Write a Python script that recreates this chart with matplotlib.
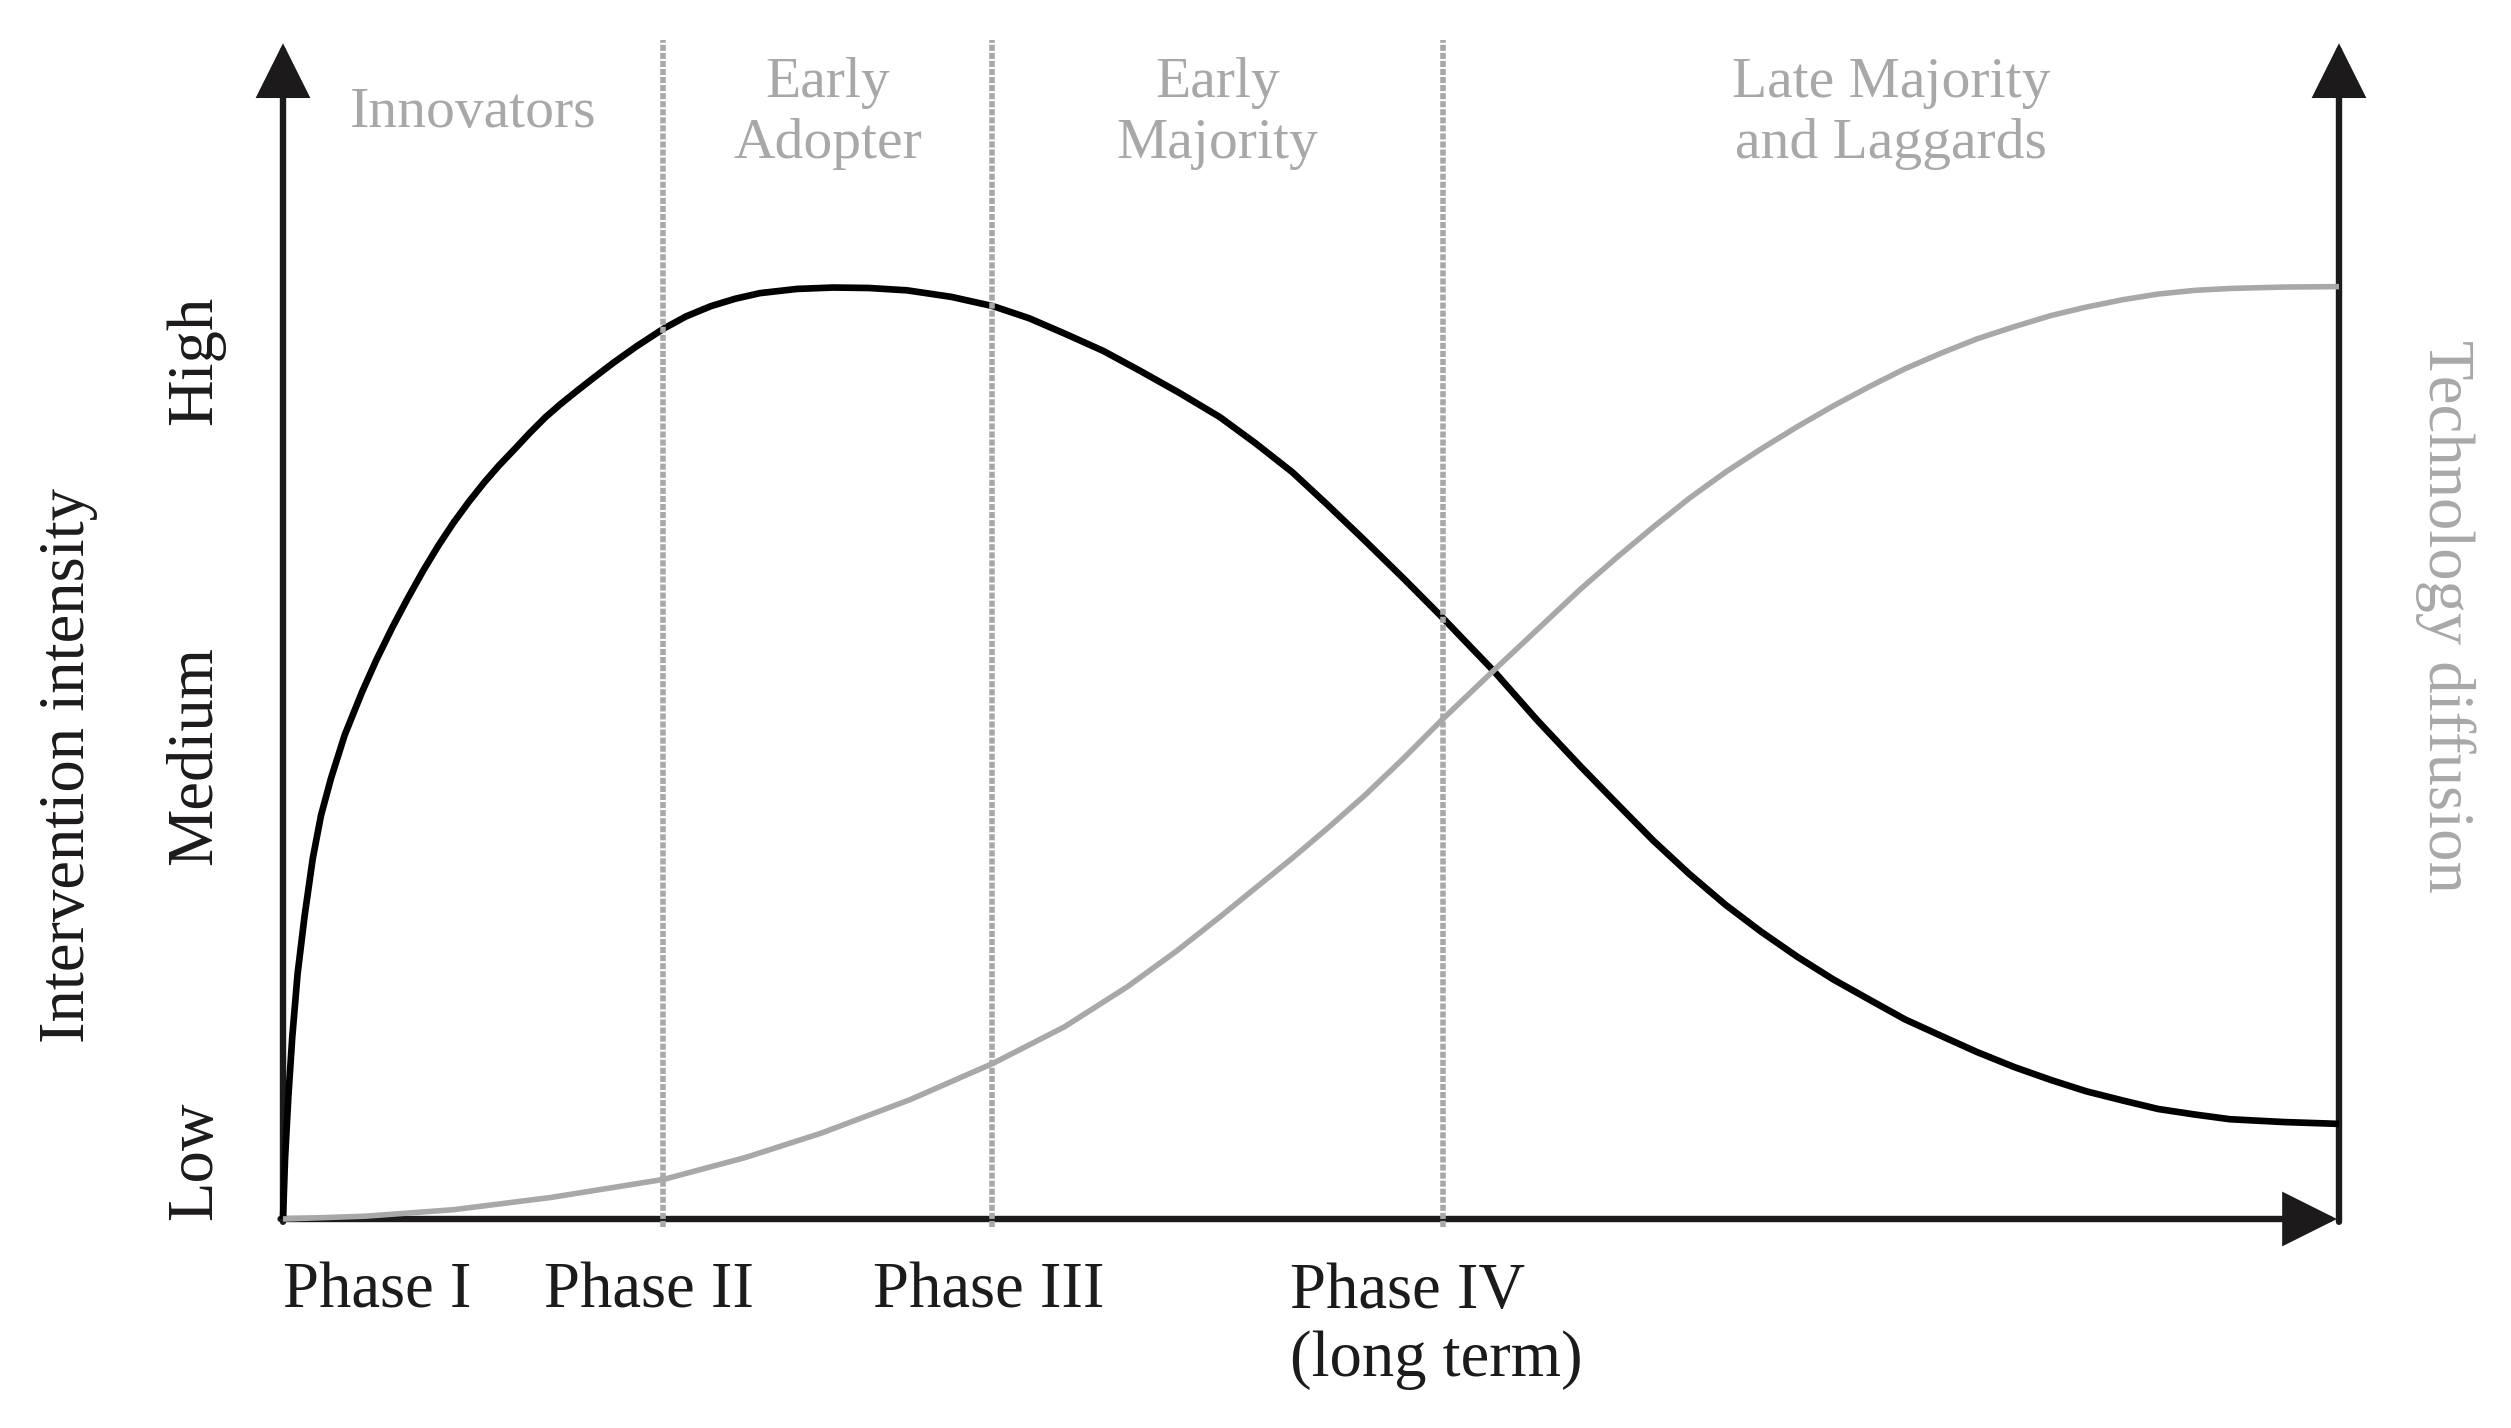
import matplotlib.pyplot as plt

plt.rcParams['font.family'] = ['Liberation Serif', 'DejaVu Serif']

# values
# x: time from start (0) to long term (100), y: 0 = low, 100 = high
intensity_x = [0, 0.1, 0.26, 0.45, 0.71, 1.05, 1.45, 1.85, 2.34, 3.0, 3.84,
               4.55, 5.33, 6.05, 6.81, 7.55, 8.30, 9.05, 9.79, 10.5, 11.28,
               12.0, 12.77, 13.5, 14.26, 15.1, 16.05, 17.2, 18.52, 19.6,
               20.81, 22.0, 23.2, 25.0, 26.77, 28.5, 30.35, 32.5, 34.54,
               36.3, 38.08, 39.9, 41.66, 43.6, 45.57, 47.3, 49.09, 50.8,
               52.6, 54.5, 56.35, 58.92, 61.0, 63.13, 64.9, 66.64, 68.4,
               70.16, 71.9, 73.67, 75.4, 77.18, 78.9, 80.69, 82.4, 84.2,
               86.0, 87.7, 89.5, 91.2, 93.0, 94.7, 97.3, 100]
intensity_y = [0, 6.5, 13.1, 19.5, 26.3, 32.5, 38.7, 43.3, 47.3, 51.9, 56.5,
               60.0, 63.5, 66.5, 69.5, 72.2, 74.7, 76.95, 79.0, 80.8, 82.6,
               84.3, 86.0, 87.4, 88.75, 90.2, 91.8, 93.6, 95.5, 96.8,
               97.9, 98.7, 99.3, 99.75, 99.9, 99.85, 99.6, 98.9, 97.9,
               96.6, 94.9, 93.1, 91.0, 88.6, 86.0, 83.2, 80.1, 76.6,
               72.8, 68.7, 64.6, 58.7, 53.5, 48.5, 44.5, 40.6, 37.0,
               33.7, 30.8, 28.1, 25.7, 23.5, 21.4, 19.6, 17.9, 16.3,
               14.9, 13.7, 12.7, 11.8, 11.2, 10.7, 10.4, 10.2]

diffusion_x = [0, 4.0, 8.3, 13.0, 18.52, 22.5, 26.17, 30.5, 34.54, 38.0,
               41.06, 43.5, 45.57, 47.3, 49.09, 50.8, 52.6, 54.5, 56.35,
               58.92, 61.0, 63.13, 64.9, 66.64, 68.4, 70.16, 71.9, 73.67,
               75.4, 77.18, 78.9, 80.69, 82.4, 84.2, 86.0, 87.7, 89.5, 91.2,
               93.0, 94.7, 97.3, 100]
diffusion_y = [0, 0.3, 1.0, 2.3, 4.25, 6.6, 9.2, 12.8, 16.7, 20.6,
               24.9, 28.8, 32.4, 35.5, 38.7, 41.9, 45.4, 49.4, 53.5,
               58.9, 63.2, 67.6, 71.0, 74.2, 77.3, 80.1, 82.6, 85.0,
               87.2, 89.3, 91.2, 92.9, 94.4, 95.7, 96.9, 97.8, 98.6, 99.2,
               99.6, 99.8, 99.95, 100]

phase_bounds = [18.5, 34.5, 56.4]
segment_labels = ['Innovators', 'Early\nAdopter', 'Early\nMajority',
                  'Late Majority\nand Laggards']
phase_labels = ['Phase I', 'Phase II', 'Phase III', 'Phase IV\n(long term)']
phase_label_x = [0, 12.7, 28.7, 49.0]
level_labels = ['Low', 'Medium', 'High']
level_y = [6.2, 49.7, 92.1]

ink = '#1c1a1a'
grey = '#a8a8a8'
big = 46.5
small = 41.5

fig = plt.figure(figsize=(25.11, 14.28), dpi=100)
ax = fig.add_axes([283 / 2511, 1 - 1219 / 1428, 2056 / 2511, (1219 - 286.6) / 1428])
ax.set_xlim(0, 100)
ax.set_ylim(0, 100)
ax.axis('off')

# axes drawn as arrows
head = '-|>,head_length=32,head_width=16'
arrow_kw = dict(arrowstyle=head, color=ink, lw=4.6, shrinkA=0, shrinkB=0,
                mutation_scale=1, joinstyle='miter')
ax.annotate('', xy=(0, 126.1), xytext=(0, -0.3), arrowprops=arrow_kw,
            annotation_clip=False, zorder=1)
ax.annotate('', xy=(100, 126.1), xytext=(100, -0.3), arrowprops=arrow_kw,
            annotation_clip=False, zorder=1)
ax.annotate('', xy=(99.9, 0), xytext=(-0.12, 0), arrowprops=arrow_kw,
            annotation_clip=False, zorder=1)

# curves
ax.plot(intensity_x, intensity_y, color='black', lw=4.8, zorder=3,
        solid_capstyle='butt', solid_joinstyle='round', clip_on=False)
ax.plot(diffusion_x, diffusion_y, color=grey, lw=4.0, zorder=4,
        solid_capstyle='butt', solid_joinstyle='round', clip_on=False)

# phase boundaries
ax.vlines(phase_bounds, -0.9, 126.4, colors=grey, lw=4.0,
          linestyles=[(0, (1.1, 0.35))], zorder=5, clip_on=False)

# adopter groups, centred between the boundaries
edges = [0] + phase_bounds + [100]
for i, lab in enumerate(segment_labels):
    cx = (edges[i] + edges[i + 1]) / 2
    ax.text(cx, 118.6, lab, color=grey, fontsize=small, ha='center',
            va='center', multialignment='center', linespacing=1.22)

# phases under the time axis, one text per line
for lab, px in zip(phase_labels, phase_label_x):
    for k, line in enumerate(lab.split('\n')):
        ax.text(px, -9.5 - 7.3 * k, line, color=ink, fontsize=big,
                ha='left', va='baseline')

# intensity levels
for lab, ly in zip(level_labels, level_y):
    ax.text(-3.5, ly, lab, color=ink, fontsize=big, rotation=90,
            rotation_mode='anchor', ha='center', va='baseline')

ax.text(-9.7, 48.6, 'Intervention intensity', color=ink, fontsize=big,
        rotation=90, rotation_mode='anchor', ha='center', va='baseline')
ax.text(104.4, 64.6, 'Technology diffusion', color=grey, fontsize=big,
        rotation=270, rotation_mode='anchor', ha='center', va='baseline')

fig.savefig('out.png', dpi=100)
